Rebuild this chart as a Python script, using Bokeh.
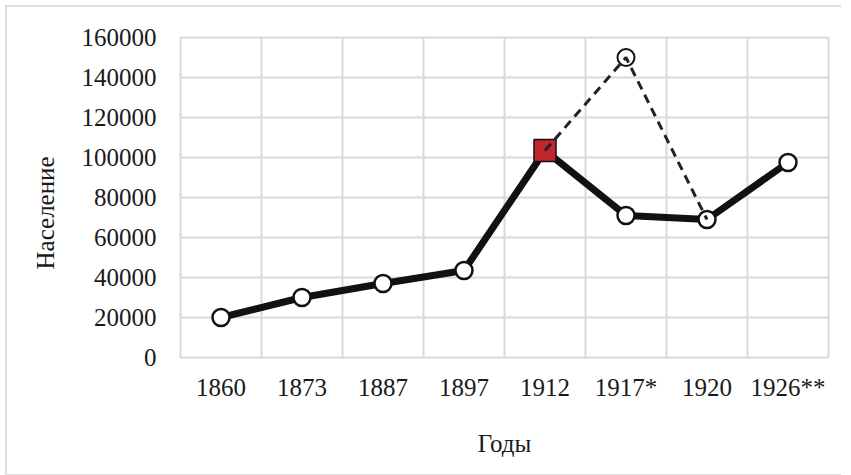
from bokeh.plotting import figure
from bokeh.models import FixedTicker, Title, Range1d, BasicTickFormatter
from bokeh.embed import file_html
from bokeh.resources import INLINE

categories = ["1860", "1873", "1887", "1897", "1912", "1917*", "1920", "1926**"]
population = [20000, 30000, 37000, 43500, 103500, 71000, 69000, 97500]
alt_categories = ["1912", "1917*", "1920"]
alt_population = [103500, 150000, 69000]
highlight_category = "1912"
y_ticks = [0, 20000, 40000, 60000, 80000, 100000, 120000, 140000, 160000]

FONT = "Liberation Serif"
GRID = "#d9d9d9"

def xpos(c):
    return categories.index(c) + 0.5

x_main = [xpos(c) for c in categories]
x_alt = [xpos(c) for c in alt_categories]
hi_idx = categories.index(highlight_category)

p = figure(width=836, height=471, output_backend="svg", toolbar_location=None,
           x_range=Range1d(0, len(categories)), y_range=Range1d(0, 160000),
           min_border_left=173, min_border_right=15, min_border_top=30, min_border_bottom=121,
           styles={"border-left": "2px solid #dedede", "border-top": "2px solid #dedede",
                   "border-bottom": "2px solid #dedede", "margin-left": "5px", "margin-top": "5px"})

p.background_fill_color = "white"
p.border_fill_color = "white"
p.outline_line_color = GRID
p.outline_line_width = 2

# grid
p.xgrid.ticker = FixedTicker(ticks=list(range(0, len(categories) + 1)))
p.xgrid.grid_line_color = GRID
p.xgrid.grid_line_width = 2
p.ygrid.grid_line_color = GRID
p.ygrid.grid_line_width = 2

# x axis
p.xaxis.ticker = FixedTicker(ticks=x_main)
p.xaxis.major_label_overrides = {x: c for x, c in zip(x_main, categories)}
p.xaxis.axis_line_color = None
p.xaxis.major_tick_line_color = None
p.xaxis.minor_tick_line_color = None
p.xaxis.major_tick_out = 0
p.xaxis.major_label_standoff = 16
p.xaxis.major_label_text_font = FONT
p.xaxis.major_label_text_font_size = "25px"
p.xaxis.major_label_text_color = "#1a1a1a"
p.xaxis.axis_label = "Годы"
p.xaxis.axis_label_text_font = FONT
p.xaxis.axis_label_text_font_size = "25px"
p.xaxis.axis_label_text_font_style = "normal"
p.xaxis.axis_label_text_color = "#1a1a1a"
p.xaxis.axis_label_standoff = 26

# y axis
p.yaxis.ticker = FixedTicker(ticks=y_ticks)
p.yaxis.formatter = BasicTickFormatter(use_scientific=False)
p.yaxis.axis_line_color = None
p.yaxis.major_tick_line_color = None
p.yaxis.minor_tick_line_color = None
p.yaxis.major_tick_out = 0
p.yaxis.major_label_standoff = 24
p.yaxis.major_label_text_font = FONT
p.yaxis.major_label_text_font_size = "25px"
p.yaxis.major_label_text_color = "#1a1a1a"

ytitle = Title(text="Население", align="left", offset=88, standoff=40,
               text_font=FONT, text_font_size="25px", text_font_style="normal",
               text_color="#1a1a1a")
p.add_layout(ytitle, "left")

# solid series
p.line(x_main, population, line_color="#111111", line_width=7)
circ_x = [x for i, x in enumerate(x_main) if i != hi_idx]
circ_y = [v for i, v in enumerate(population) if i != hi_idx]
p.scatter(circ_x, circ_y, marker="circle", size=17, fill_color="white",
          line_color="#111111", line_width=2.5)
p.scatter([x_main[hi_idx]], [population[hi_idx]], marker="square", size=22,
          fill_color="#c1272d", line_color="#111111", line_width=1.5)

# dashed alternative
p.scatter([x_alt[1]], [alt_population[1]], marker="circle", size=17, fill_color="white",
          line_color="#111111", line_width=2)
p.line(x_alt, alt_population, line_color="#222222", line_width=3, line_dash="9 6")

open("out.html", "w").write(file_html(p, INLINE))
